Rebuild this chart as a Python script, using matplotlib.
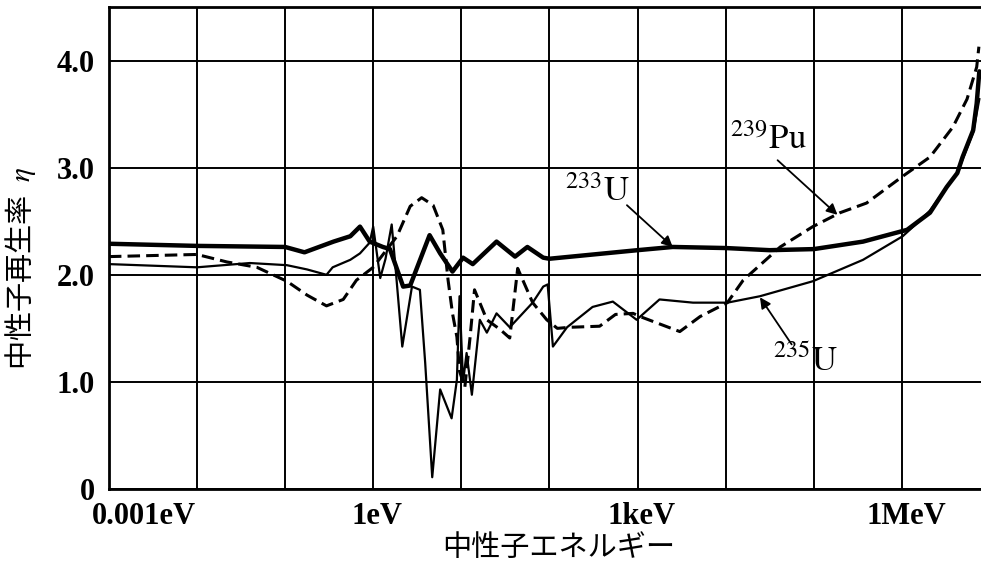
import numpy as np
import matplotlib
matplotlib.use("Agg")
import matplotlib.pyplot as plt

plt.rcParams['font.family'] = ['Noto Sans CJK JP', 'DejaVu Sans']
plt.rcParams['mathtext.fontset'] = 'stix'

# neutron energy as log10(E / eV), eta values
u233_logE = [-3.0, -2.0, -1.0, -0.78, -0.45, -0.26, -0.15, -0.04, 0.11, 0.19,
             0.34, 0.42, 0.64, 0.76, 0.90, 1.02, 1.13, 1.40, 1.61, 1.75, 1.93,
             2.0, 2.5, 3.0, 3.4, 4.0, 4.5, 5.0, 5.56, 6.06, 6.32, 6.51, 6.63,
             6.69, 6.81, 6.85, 6.88]
u233_eta = [2.29, 2.27, 2.26, 2.21, 2.31, 2.36, 2.45, 2.31, 2.26, 2.24,
            1.89, 1.90, 2.37, 2.20, 2.03, 2.16, 2.10, 2.31, 2.17, 2.26, 2.16,
            2.15, 2.19, 2.23, 2.26, 2.25, 2.23, 2.24, 2.31, 2.42, 2.58, 2.82, 2.95,
            3.10, 3.35, 3.60, 3.90]

u235_logE = [-3.0, -2.0, -1.4, -0.98, -0.75, -0.53, -0.46, -0.26, -0.15, -0.04,
             0.0, 0.08, 0.14, 0.21, 0.25, 0.33, 0.44, 0.53, 0.59, 0.67, 0.76,
             0.89, 0.95, 0.98, 1.02, 1.06, 1.12, 1.21, 1.29, 1.40, 1.55, 1.81,
             1.93, 1.98, 2.04, 2.20, 2.49, 2.72, 2.99, 3.25, 3.63, 4.02, 4.39,
             4.99, 5.56, 6.01, 6.21, 6.32, 6.51, 6.63, 6.81, 6.88]
u235_eta = [2.10, 2.07, 2.11, 2.09, 2.05, 2.00, 2.07, 2.14, 2.20, 2.30,
            2.45, 1.97, 2.15, 2.47, 2.10, 1.33, 1.89, 1.86, 1.18, 0.11, 0.93,
            0.66, 1.02, 1.80, 1.00, 1.27, 0.88, 1.58, 1.46, 1.64, 1.51, 1.74,
            1.89, 1.91, 1.33, 1.51, 1.70, 1.75, 1.58, 1.77, 1.74, 1.74, 1.80,
            1.94, 2.14, 2.36, 2.51, 2.60, 2.82, 2.95, 3.33, 3.64]

pu239_logE = [-3.0, -2.0, -1.66, -1.32, -0.98, -0.75, -0.53, -0.34, -0.19, 0.0,
              0.27, 0.42, 0.55, 0.68, 0.79, 0.85, 0.90, 0.95, 0.98, 1.04, 1.10,
              1.15, 1.29, 1.44, 1.55, 1.64, 1.81, 1.97, 2.09, 2.23, 2.57, 2.75,
              2.95, 3.03, 3.48, 3.71, 4.02, 4.20, 4.62, 4.99, 5.30, 5.60, 6.01,
              6.32, 6.58, 6.74, 6.85, 6.875]
pu239_eta = [2.17, 2.19, 2.12, 2.07, 1.94, 1.81, 1.71, 1.77, 1.95, 2.07,
             2.36, 2.64, 2.72, 2.65, 2.42, 1.95, 1.64, 1.42, 1.10, 0.95, 1.42,
             1.86, 1.58, 1.49, 1.41, 2.06, 1.74, 1.58, 1.50, 1.51, 1.52, 1.63,
             1.64, 1.61, 1.47, 1.61, 1.74, 1.95, 2.26, 2.45, 2.58, 2.67, 2.92,
             3.10, 3.38, 3.64, 3.94, 4.13]

tick_logE = [-3, 0, 3, 6]
tick_names = ['0.001eV', '1eV', '1keV', '1MeV']
eta_ticks = [0, 1, 2, 3, 4]
eta_names = ['0', '1.0', '2.0', '3.0', '4.0']

# label, text position (logE, eta), arrow tail, arrow tip (logE, eta)
notes = [
    (r'$^{233}\mathrm{U}$', (2.55, 2.78), (2.88, 2.65), (3.40, 2.26)),
    (r'$^{239}\mathrm{Pu}$', (4.48, 3.26), (4.59, 3.07), (5.27, 2.56)),
    (r'$^{235}\mathrm{U}$', (4.91, 1.19), (4.75, 1.35), (4.39, 1.79)),
]

fig = plt.figure(figsize=(9.81, 5.65), dpi=100)
ax = fig.add_axes([0.111, 0.1345, 0.890, 0.853])

ax.plot(10 ** np.array(u235_logE), u235_eta, color='k', lw=1.6)
ax.plot(10 ** np.array(pu239_logE), pu239_eta, color='k', lw=2.2,
        dashes=(4.1, 2.0))
ax.plot(10 ** np.array(u233_logE), u233_eta, color='k', lw=3.2,
        solid_capstyle='round')

ax.set_xscale('log')
ax.set_xlim(10 ** -3, 10 ** 6.91)
ax.set_ylim(0, 4.5)

ax.set_xticks(10.0 ** np.arange(-3, 7))
ax.set_xticklabels([])
ax.minorticks_off()
ax.set_yticks(eta_ticks)
ax.set_yticklabels(eta_names, family='Liberation Serif', fontsize=22,
                   fontweight='bold')
ax.tick_params(length=0, pad=10)
ax.grid(True, color='k', lw=1.4)
for s in ax.spines.values():
    s.set_linewidth(2)

for e, name in zip(tick_logE, tick_names):
    ha = 'left' if e == -3 else 'center'
    dx = -12 if e == -3 else 3
    ax.annotate(name, xy=(10.0 ** e, 0), xycoords=('data', 'axes fraction'),
                xytext=(dx, -9), textcoords='offset points', ha=ha, va='top',
                family='Liberation Serif', fontsize=22, fontweight='bold')

for txt, pos, tail, tip in notes:
    ax.text(10 ** pos[0], pos[1], txt, fontsize=25, ha='center', va='center')
    ax.annotate('', xy=(10 ** tip[0], tip[1]), xytext=(10 ** tail[0], tail[1]),
                arrowprops=dict(arrowstyle='-|>', color='k', lw=1.3,
                                mutation_scale=16, shrinkA=0, shrinkB=0))

ax.set_xlabel('中性子エネルギー', fontsize=21, va='center')
ax.xaxis.set_label_coords(0.515, -0.122)
ax.set_ylabel('中性子再生率  $\\eta$', fontsize=21)
ax.yaxis.set_label_coords(-0.081, 0.458)

fig.savefig('out.png', dpi=100)
